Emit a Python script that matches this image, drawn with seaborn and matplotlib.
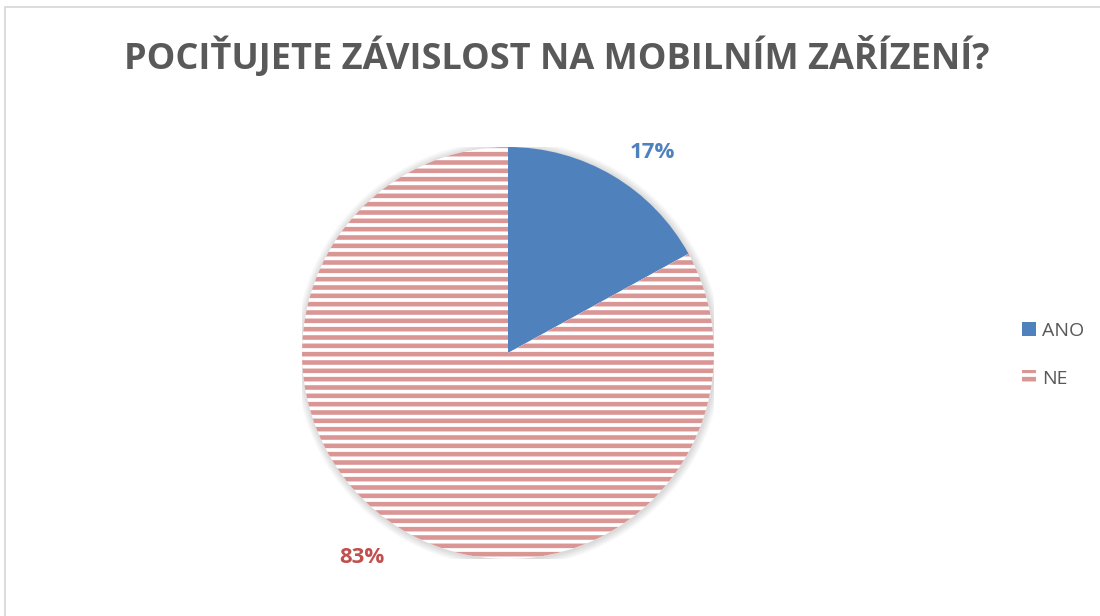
import matplotlib
matplotlib.use("Agg")
import numpy as np
import matplotlib.pyplot as plt
import seaborn as sns
from matplotlib.patches import Rectangle, Circle

sns.set_theme(style="white")
plt.rcParams['font.family'] = ['Open Sans', 'DejaVu Sans']

title = "POCIŤUJETE ZÁVISLOST NA MOBILNÍM ZAŘÍZENÍ?"
categories = ["ANO", "NE"]
values = [17, 83]
label_colors = ["#4F81BD", "#C0504D"]
fill_colors = ["#4F81BD", "white"]
hatch_colors = ["#4F81BD", "#D99694"]

W, H = 1100, 616
fig = plt.figure(figsize=(11, 6.16), dpi=100)
plt.rcParams['hatch.linewidth'] = 3.3

cx, cy, r = 508, 353, 206
ax = fig.add_axes([(cx - r) / W, (H - cy - r) / H, 2 * r / W, 2 * r / H])

# soft shadow glow
for k in range(6):
    ax.add_patch(Circle((0.004, -0.004), 1.0 + 0.006 * (k + 1), facecolor="#000000",
                        alpha=0.025, linewidth=0, zorder=0))

wedges, texts, autotexts = ax.pie(
    values, startangle=90, counterclock=False,
    colors=fill_colors, autopct="%1.0f%%", pctdistance=1.2,
    wedgeprops=dict(linewidth=0),
    textprops=dict(fontsize=16, fontweight="bold"))
for w, hc in zip(wedges, hatch_colors):
    w.set_edgecolor(hc)
    w.set_zorder(2)
wedges[1].set_hatch("--")
wedges[1].set_linewidth(0)
for t, c in zip(autotexts, label_colors):
    t.set_color(c)
# label placement along a common diagonal, as in the reference
for t, ang, dist in zip(autotexts, [54.4, 234.4], [1.2, 1.218]):
    a = np.deg2rad(ang)
    t.set_position((dist * np.cos(a), dist * np.sin(a)))
ax.set_xlim(-1, 1)
ax.set_ylim(-1, 1)
ax.set_aspect("equal")
ax.axis("off")

fig.text(557 / W, 1 - 58 / H, title, ha="center", va="center",
         fontsize=26, fontweight="bold", color="#595959")

handles = []
for i, cat in enumerate(categories):
    p = Rectangle((0, 0), 1, 1, facecolor=fill_colors[i], edgecolor=hatch_colors[i],
                  linewidth=0, label=cat)
    if i == 1:
        p.set_hatch("--")
    handles.append(p)
leg = fig.legend(handles=handles, loc="center left",
                 bbox_to_anchor=(1004 / W, 1 - 355 / H), frameon=False,
                 fontsize=14, handlelength=0.75, handleheight=0.75,
                 handletextpad=0.3, labelspacing=1.55, labelcolor="#595959")

fig.add_artist(Rectangle((5 / W, -0.1), 1.2, 1 - 7 / H + 0.1, transform=fig.transFigure,
                         fill=False, edgecolor="#D9D9D9", linewidth=1.3))

fig.savefig("out.png", dpi=100)
